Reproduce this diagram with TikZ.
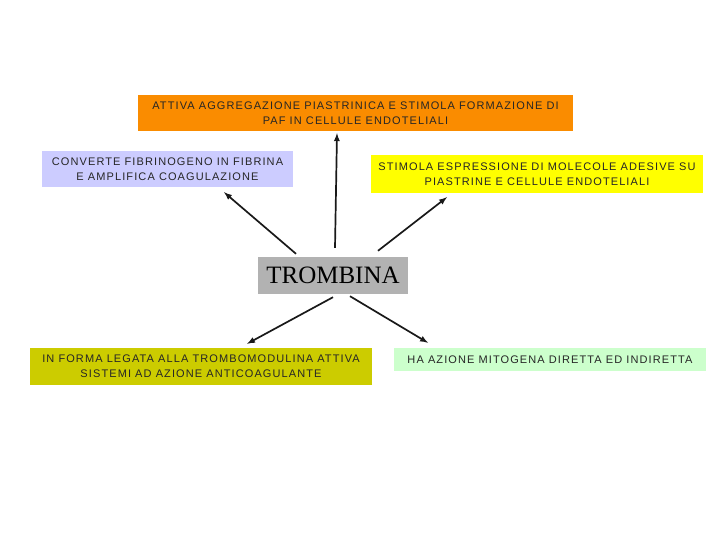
\documentclass[tikz,border=0pt]{standalone}
\usepackage{fontspec}
\setmainfont[LetterSpace=10]{Liberation Sans}
\newfontfamily\trombfont{Liberation Serif}
\usepackage{xcolor}
\usetikzlibrary{arrows}

\definecolor{arancio}{RGB}{250,140,0}
\definecolor{lilla}{RGB}{204,204,255}
\definecolor{giallo}{RGB}{255,255,0}
\definecolor{grigio}{RGB}{178,178,178}
\definecolor{oliva}{RGB}{204,204,0}
\definecolor{verdino}{RGB}{204,255,204}

\tikzset{
  box/.style = {inner sep=0pt, align=center, text=black!85,
                font=\fontsize{11}{15}\selectfont},
  freccia/.style = {-latex, line width=1.7pt, black!90}
}

\begin{document}
\begin{tikzpicture}[x=1pt, y=-1pt]
	\useasboundingbox (0,0) rectangle (720,540);
	% riquadri
	\node[box, fill=arancio, minimum width=435pt, minimum height=36pt] (aggreg) at (355.5,113)
	    {ATTIVA AGGREGAZIONE PIASTRINICA E STIMOLA FORMAZIONE DI\\PAF IN CELLULE ENDOTELIALI};
	\node[box, fill=lilla, minimum width=251pt, minimum height=36pt] (fibrina) at (167.5,169)
	    {CONVERTE FIBRINOGENO IN FIBRINA\\E AMPLIFICA COAGULAZIONE};
	\node[box, fill=giallo, minimum width=332pt, minimum height=38pt] (adesive) at (537,174)
	    {STIMOLA ESPRESSIONE DI MOLECOLE ADESIVE SU\\PIASTRINE E CELLULE ENDOTELIALI};
	\node[fill=grigio, minimum width=150pt, minimum height=37pt, inner sep=0pt,
	      font=\trombfont\fontsize{25}{27}\selectfont] (trombina) at (333,275.5) {TROMBINA};
	\node[box, fill=oliva, minimum width=342pt, minimum height=37pt] (anticoag) at (201,366.5)
	    {IN FORMA LEGATA ALLA TROMBOMODULINA ATTIVA\\SISTEMI AD AZIONE ANTICOAGULANTE};
	\node[box, fill=verdino, minimum width=312pt, minimum height=23pt] (mitogena) at (550,359.5)
	    {HA AZIONE MITOGENA DIRETTA ED INDIRETTA};
	% frecce
	\draw[freccia] ([xshift=2pt, yshift=9pt]trombina.north) -- ([xshift=-18.5pt, yshift=-2pt]aggreg.south);
	\draw[freccia] ([xshift=-37pt, yshift=3pt]trombina.north) -- ([xshift=56.5pt, yshift=-5pt]fibrina.south);
	\draw[freccia] ([xshift=45pt, yshift=6pt]trombina.north) -- ([xshift=-90pt, yshift=-4pt]adesive.south);
	\draw[freccia] ([yshift=-3pt]trombina.south) -- ([xshift=46pt, yshift=4pt]anticoag.north);
	\draw[freccia] ([xshift=17pt, yshift=-2pt]trombina.south) -- ([xshift=-122pt, yshift=5pt]mitogena.north);
\end{tikzpicture}
\end{document}
